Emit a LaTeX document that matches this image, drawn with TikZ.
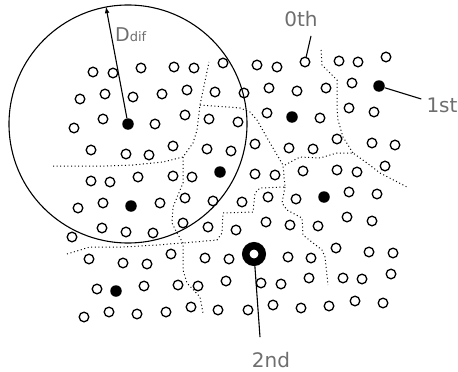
\documentclass[tikz,border=0pt]{standalone}
\usepackage{fontspec}
\newfontfamily\labelfont{DejaVu Sans}
\usetikzlibrary{arrows}
\definecolor{lblgray}{RGB}{110,110,110}
\tikzset{
  pore/.style={circle,draw,line width=1.3pt,inner sep=0pt,minimum size=9.6pt},
  site/.style={circle,fill=black,inner sep=0pt,minimum size=11.5pt},
  poreRing/.style={circle,draw,line width=7.5pt,inner sep=0pt,minimum size=16.5pt},
  cellEdge/.style={line width=1pt,dash pattern=on 1pt off 2.6pt},
  lbl/.style={text=lblgray,inner sep=0pt,font=\labelfont\fontsize{20}{20}\selectfont},
  lead/.style={line width=1.1pt},
}

\begin{document}
\begin{tikzpicture}[x=1pt,y=-1pt]
\useasboundingbox (0,0) rectangle (458,372);
% cell boundaries
\draw[cellEdge] (53,166) -- (107,166) -- (133,165) -- (163,162) -- (183,157) -- (193,143) -- (197,130) -- (200,105) -- (209,62);
\draw[cellEdge] (200,105) -- (240,108) -- (250,112) -- (257,120) -- (270,143) -- (283,165) -- (285,187);
\draw[cellEdge] (183,157) -- (183,183) -- (173,207) -- (172,223) -- (177,233) -- (183,243) -- (183,270) -- (187,283) -- (200,297) -- (203,313);
\draw[cellEdge] (67,254) -- (90,247) -- (123,247) -- (157,245) -- (183,243) -- (217,240) -- (222,233) -- (223,213) -- (253,212) -- (255,193) -- (260,188) -- (285,187);
\draw[cellEdge] (285,187) -- (282,203) -- (287,210) -- (302,218) -- (303,235) -- (322,250) -- (325,257) -- (328,285);
\draw[cellEdge] (285,165) -- (300,157) -- (320,158) -- (337,153) -- (353,153) -- (367,163) -- (380,173) -- (407,187);
\draw[cellEdge] (321,50) -- (322,65) -- (337,80) -- (337,107) -- (338,120) -- (343,137) -- (353,153);
% pores
\foreach \x/\y [count=\i] in {
  93/72,113/73,141/68,174/67,194/68,223/63,
  80/99,105/94,133/97,162/94,187/90,215/92,
  74/128,103/119,155/124,185/115,209/119,
  91/150,126/154,149/155,173/146,207/149,
  91/181,110/182,138/177,173/176,192/177,
  78/208,103/203,160/203,185/198,213/201,
  72/237,102/228,126/232,153/233,183/223,208/227,
  89/259,123/263,147/264,171/254,205/258,
  97/289,144/286,178/285,198/286,
  84/317,109/312,137/314,166/312,191/307,
  257/65,277/67,339/61,358/62,386/57,
  244/93,269/88,297/91,326/88,352/83,
  238/122,267/113,320/118,349/108,374/112,
  231/151,255/144,289/148,313/149,337/139,372/143,395/145,
  255/174,275/175,303/171,337/170,357/172,385/166,
  242/202,268/197,296/199,349/192,377/194,
  236/230,266/222,290/225,318/226,347/217,372/221,
  229/259,288/257,311/258,336/248,369/252,393/253,
  226/281,261/283,281/284,309/278,343/278,362/279,391/274,
  218/310,248/310,273/305,301/308,329/306,355/301,383/303}
  \node[pore] (p\i) at (\x,\y) {};
\foreach \x/\y [count=\i] in {292/117,220/172,131/206,324/197,116/291}
  \node[site] (s\i) at (\x,\y) {};
\node[pore] (P0) at (305,62) {};
\node[site] (P1) at (379,86) {};
\node[poreRing] (P2) at (254,254) {};
\node[site] (C) at (128,124) {};
% diffusion range
\draw[line width=1.1pt] (C.center) circle (119pt);
\coordinate (Rim) at (106,7);
\draw[->,>=latex,lead] (C) -- (Rim);
\node[anchor=base west,inner sep=0pt,text=lblgray] (Ddif) at (115,41) {\labelfont\fontsize{19}{19}\selectfont D\fontsize{13}{13}\selectfont dif};
% labels
\node[lbl] (L0) at (301,19) {0th};
\node[lbl] (L1) at (442,105) {1st};
\node[lbl] (L2) at (271,360) {2nd};
\draw[lead] (P0) -- ([shift={(10pt,-9pt)}]L0.south);
\draw[lead] (P1) -- ([shift={(-5pt,6pt)}]L1.west);
\draw[lead] (P2) -- ([shift={(-11pt,15pt)}]L2.north);
\end{tikzpicture}
\end{document}
